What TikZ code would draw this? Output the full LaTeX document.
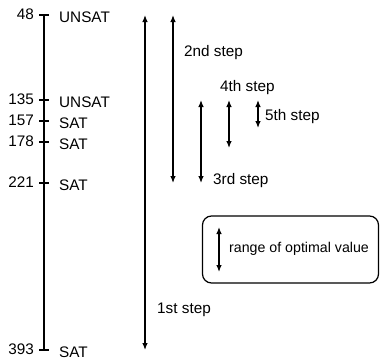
\documentclass[tikz,border=0pt]{standalone}
\usepackage{fontspec}
\setmainfont{Liberation Sans}
\usetikzlibrary{arrows.meta,positioning}
\tikzset{
  lbl/.style={font=\fontsize{15.3}{18}\selectfont, inner sep=0pt},
  steparrow/.style={{Latex[length=7pt,width=5.5pt]}-{Latex[length=7pt,width=5.5pt]}, line width=1.2pt},
}
\begin{document}
\begin{tikzpicture}[x=1pt,y=-1pt]
  \useasboundingbox (0,0) rectangle (380,362);
  % scale
  \coordinate (top) at (44,15);
  \coordinate (bot) at (44,350);
  \draw[line width=1.6pt] (top) -- (bot);
  % ticks, values and results
  \foreach \v/\y/\r/\n in {48/15/UNSAT/a, 135/100/UNSAT/b, 157/121/SAT/c,
                          178/142/SAT/d, 221/183/SAT/e, 393/350/SAT/f} {
    \coordinate (t\n) at (44,\y);
    \draw[line width=1.2pt] ([xshift=-5pt]t\n) -- ([xshift=5pt]t\n);
    \node[lbl, anchor=east] (num\n) at (34,\y-1) {\v};
    \node[lbl, anchor=west] (res\n) at (59,\y+2) {\r};
  }

  % 1st step
  \coordinate (s1a) at (145,15);
  \coordinate (s1b) at (145,350);
  \draw[steparrow] (s1a) -- (s1b);
  \node[lbl, anchor=west] (l1) at (157,310) {1st step};
  % 2nd step
  \coordinate (s2a) at (173,15);
  \coordinate (s2b) at (173,183);
  \draw[steparrow] (s2a) -- (s2b);
  \node[lbl, anchor=west] (l2) at (184,53) {2nd step};
  % 3rd step
  \coordinate (s3a) at (201,100);
  \coordinate (s3b) at (201,183);
  \draw[steparrow] (s3a) -- (s3b);
  \node[lbl, anchor=west] (l3) at (213,181) {3rd step};
  % 4th step
  \coordinate (s4a) at (229,100);
  \coordinate (s4b) at (229,148);
  \draw[steparrow] (s4a) -- (s4b);
  \node[lbl, anchor=west] (l4) at (220,88) {4th step};
  % 5th step
  \coordinate (s5a) at (258,100);
  \coordinate (s5b) at (258,128);
  \draw[steparrow] (s5a) -- (s5b);
  \node[lbl, anchor=west] (l5) at (265,117) {5th step};

  % legend
  \node[draw, rounded corners=9pt, line width=1.2pt, minimum width=176pt,
        minimum height=67pt] (legend) at (290.5,249.5) {};
  \coordinate (ra) at (219,227);
  \coordinate (rb) at (219,272);
  \draw[steparrow] (ra) -- (rb);
  \node[lbl, anchor=west, font=\fontsize{14.2}{17}\selectfont] (lr) at (229,249) {range of optimal value};
\end{tikzpicture}
\end{document}
